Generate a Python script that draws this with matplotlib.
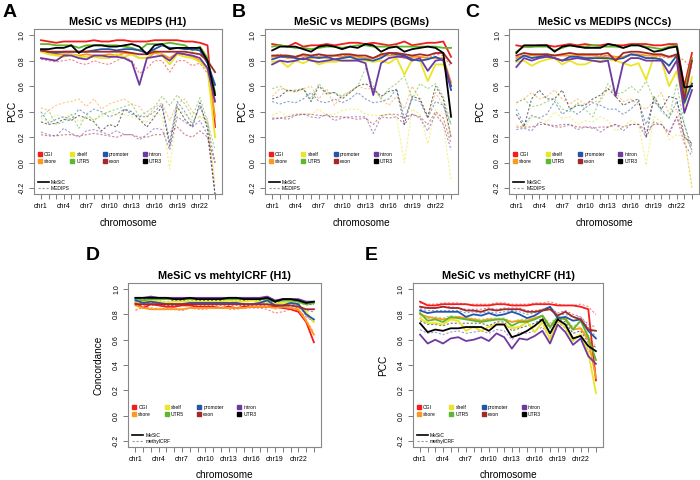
import matplotlib
matplotlib.use("Agg")
import matplotlib.pyplot as plt
from matplotlib.lines import Line2D

plt.rcParams['font.family'] = ['Liberation Sans', 'DejaVu Sans']

chroms = ['chr%d' % i for i in range(1, 23)] + ['chrX', 'chrY']
features = ['CGI', 'shore', 'shelf', 'UTR5', 'promoter', 'exon', 'intron', 'UTR3']
colors = ['#f41c1c', '#fb9a1e', '#ebe52a', '#5cb82c', '#2356a8', '#a3282a', '#6f3aa0', '#000000']

# rows follow `features`; 24 values per row (chr1..chr22, chrX, chrY)
a_mesic = [
    [0.96,0.95,0.94,0.95,0.95,0.95,0.95,0.96,0.95,0.95,0.96,0.96,0.95,0.95,0.95,0.96,0.96,0.96,0.96,0.95,0.95,0.94,0.92,0.28],
    [0.88,0.86,0.85,0.85,0.85,0.84,0.85,0.84,0.84,0.85,0.84,0.86,0.85,0.82,0.82,0.86,0.85,0.82,0.86,0.85,0.83,0.80,0.74,0.36],
    [0.87,0.85,0.84,0.83,0.85,0.83,0.83,0.83,0.82,0.82,0.85,0.83,0.85,0.82,0.82,0.88,0.84,0.77,0.85,0.83,0.82,0.79,0.73,0.20],
    [0.93,0.93,0.92,0.92,0.92,0.90,0.92,0.92,0.92,0.92,0.92,0.91,0.90,0.88,0.93,0.93,0.93,0.94,0.93,0.92,0.88,0.91,0.82,0.55],
    [0.88,0.87,0.86,0.87,0.87,0.87,0.87,0.88,0.89,0.89,0.88,0.89,0.89,0.88,0.86,0.89,0.92,0.90,0.90,0.89,0.89,0.88,0.78,0.61],
    [0.88,0.87,0.87,0.87,0.87,0.87,0.87,0.87,0.87,0.87,0.87,0.87,0.86,0.85,0.85,0.87,0.87,0.87,0.87,0.87,0.86,0.85,0.80,0.71],
    [0.82,0.81,0.80,0.84,0.84,0.82,0.81,0.84,0.84,0.83,0.83,0.82,0.79,0.61,0.82,0.83,0.84,0.80,0.86,0.85,0.84,0.82,0.74,0.48],
    [0.89,0.89,0.90,0.90,0.92,0.86,0.90,0.92,0.92,0.91,0.91,0.92,0.93,0.91,0.85,0.92,0.93,0.89,0.90,0.90,0.90,0.90,0.80,0.53],
]
a_medips = [
    [0.81,0.80,0.79,0.80,0.81,0.78,0.77,0.80,0.78,0.77,0.80,0.83,0.80,0.70,0.74,0.80,0.80,0.71,0.80,0.80,0.76,0.78,0.70,0.45],
    [0.43,0.41,0.45,0.47,0.48,0.50,0.44,0.50,0.42,0.46,0.48,0.50,0.46,0.44,0.36,0.43,0.47,0.33,0.46,0.50,0.40,0.36,0.35,-0.20],
    [0.35,0.32,0.38,0.35,0.38,0.32,0.36,0.34,0.36,0.40,0.38,0.38,0.36,0.34,0.32,0.38,0.37,-0.05,0.43,0.38,0.33,0.36,0.30,-0.15],
    [0.36,0.41,0.30,0.32,0.38,0.27,0.38,0.33,0.38,0.40,0.42,0.44,0.46,0.36,0.40,0.44,0.52,0.45,0.53,0.46,0.36,0.51,0.32,0.10],
    [0.40,0.31,0.34,0.36,0.34,0.42,0.38,0.42,0.40,0.36,0.38,0.42,0.38,0.36,0.36,0.40,0.46,0.16,0.48,0.40,0.30,0.44,0.30,0.00],
    [0.22,0.21,0.21,0.22,0.22,0.21,0.22,0.23,0.22,0.21,0.20,0.22,0.22,0.20,0.20,0.22,0.22,0.24,0.28,0.22,0.20,0.25,0.20,0.00],
    [0.24,0.22,0.21,0.27,0.23,0.20,0.25,0.26,0.24,0.22,0.25,0.22,0.22,0.18,0.22,0.27,0.26,0.10,0.36,0.32,0.28,0.33,0.22,-0.25],
    [0.32,0.30,0.31,0.34,0.33,0.37,0.35,0.32,0.25,0.30,0.28,0.42,0.40,0.34,0.28,0.36,0.44,0.13,0.44,0.34,0.28,0.47,0.26,-0.25],
]

b_mesic = [
    [0.93,0.92,0.91,0.94,0.91,0.92,0.92,0.93,0.92,0.93,0.94,0.94,0.93,0.94,0.93,0.92,0.93,0.95,0.92,0.93,0.94,0.94,0.95,0.83],
    [0.83,0.84,0.82,0.83,0.84,0.82,0.83,0.82,0.84,0.83,0.84,0.83,0.82,0.82,0.84,0.84,0.84,0.82,0.83,0.83,0.82,0.82,0.82,0.63],
    [0.79,0.80,0.75,0.80,0.78,0.81,0.77,0.79,0.79,0.80,0.80,0.81,0.80,0.79,0.80,0.78,0.82,0.69,0.81,0.80,0.64,0.77,0.77,0.60],
    [0.91,0.92,0.91,0.90,0.90,0.89,0.90,0.91,0.91,0.90,0.91,0.92,0.92,0.91,0.91,0.91,0.91,0.91,0.91,0.91,0.91,0.91,0.90,0.90],
    [0.81,0.83,0.83,0.82,0.81,0.83,0.82,0.83,0.81,0.82,0.83,0.81,0.81,0.80,0.82,0.86,0.85,0.84,0.81,0.80,0.81,0.83,0.80,0.57],
    [0.84,0.84,0.84,0.83,0.85,0.84,0.85,0.84,0.84,0.85,0.85,0.84,0.84,0.82,0.85,0.86,0.86,0.85,0.84,0.85,0.84,0.86,0.86,0.78],
    [0.77,0.80,0.79,0.80,0.82,0.80,0.79,0.80,0.81,0.80,0.80,0.80,0.78,0.53,0.78,0.82,0.83,0.83,0.80,0.82,0.72,0.80,0.81,0.60],
    [0.88,0.91,0.91,0.91,0.89,0.87,0.91,0.92,0.91,0.89,0.91,0.90,0.93,0.92,0.87,0.90,0.91,0.87,0.89,0.90,0.91,0.90,0.86,0.36],
]
b_medips = [
    [0.84,0.85,0.84,0.83,0.84,0.84,0.84,0.84,0.84,0.84,0.84,0.84,0.84,0.82,0.83,0.85,0.84,0.82,0.83,0.83,0.82,0.85,0.84,0.75],
    [0.52,0.58,0.57,0.55,0.58,0.60,0.50,0.58,0.45,0.53,0.55,0.60,0.58,0.58,0.50,0.45,0.52,0.42,0.60,0.50,0.35,0.55,0.45,0.20],
    [0.37,0.40,0.36,0.37,0.38,0.38,0.42,0.37,0.38,0.41,0.42,0.42,0.38,0.37,0.37,0.38,0.36,0.00,0.42,0.38,0.15,0.42,0.30,-0.14],
    [0.58,0.60,0.56,0.57,0.58,0.50,0.62,0.55,0.55,0.52,0.56,0.60,0.74,0.60,0.50,0.58,0.62,0.68,0.50,0.62,0.58,0.62,0.52,0.30],
    [0.48,0.46,0.48,0.47,0.50,0.55,0.48,0.47,0.50,0.47,0.50,0.55,0.50,0.47,0.48,0.50,0.58,0.35,0.50,0.48,0.35,0.48,0.45,0.30],
    [0.35,0.35,0.36,0.38,0.38,0.38,0.37,0.37,0.36,0.36,0.35,0.34,0.35,0.30,0.37,0.38,0.38,0.35,0.38,0.36,0.30,0.40,0.35,0.15],
    [0.34,0.35,0.34,0.37,0.38,0.36,0.35,0.38,0.33,0.35,0.36,0.36,0.36,0.23,0.36,0.35,0.36,0.30,0.38,0.35,0.25,0.38,0.30,0.10],
    [0.50,0.52,0.57,0.56,0.58,0.48,0.60,0.54,0.55,0.50,0.55,0.60,0.62,0.58,0.52,0.56,0.57,0.30,0.52,0.50,0.36,0.60,0.50,0.20],
]

c_mesic = [
    [0.92,0.91,0.91,0.92,0.92,0.91,0.92,0.93,0.92,0.93,0.92,0.92,0.93,0.92,0.92,0.93,0.93,0.93,0.92,0.92,0.93,0.93,0.60,0.86],
    [0.82,0.84,0.84,0.84,0.85,0.84,0.84,0.84,0.84,0.84,0.84,0.83,0.84,0.83,0.83,0.85,0.85,0.84,0.84,0.84,0.83,0.84,0.50,0.62],
    [0.79,0.80,0.76,0.79,0.81,0.82,0.77,0.80,0.77,0.77,0.80,0.80,0.81,0.80,0.78,0.76,0.78,0.65,0.83,0.80,0.60,0.72,0.45,0.67],
    [0.87,0.91,0.91,0.91,0.91,0.88,0.90,0.92,0.91,0.91,0.92,0.91,0.91,0.91,0.90,0.92,0.92,0.91,0.90,0.89,0.91,0.92,0.55,0.82],
    [0.80,0.84,0.82,0.83,0.84,0.82,0.80,0.83,0.83,0.82,0.82,0.82,0.82,0.81,0.82,0.85,0.84,0.82,0.82,0.81,0.76,0.84,0.47,0.62],
    [0.84,0.86,0.85,0.85,0.85,0.84,0.85,0.86,0.85,0.85,0.85,0.85,0.86,0.80,0.86,0.87,0.87,0.86,0.85,0.85,0.83,0.85,0.50,0.80],
    [0.75,0.82,0.80,0.82,0.83,0.82,0.80,0.81,0.82,0.81,0.80,0.79,0.80,0.52,0.78,0.82,0.82,0.80,0.80,0.80,0.70,0.80,0.39,0.57],
    [0.86,0.92,0.92,0.92,0.92,0.87,0.91,0.92,0.91,0.90,0.90,0.90,0.93,0.92,0.90,0.92,0.92,0.90,0.87,0.88,0.90,0.91,0.59,0.60],
]
c_medips = [
    [0.83,0.84,0.84,0.84,0.85,0.84,0.84,0.84,0.84,0.84,0.84,0.84,0.84,0.82,0.83,0.84,0.84,0.82,0.83,0.83,0.82,0.84,0.80,0.74],
    [0.47,0.50,0.55,0.50,0.52,0.57,0.50,0.46,0.50,0.46,0.48,0.48,0.58,0.55,0.48,0.50,0.45,0.42,0.48,0.55,0.38,0.42,0.20,-0.20],
    [0.30,0.27,0.36,0.35,0.32,0.40,0.35,0.36,0.30,0.33,0.32,0.36,0.33,0.25,0.28,0.33,0.30,-0.02,0.36,0.32,0.18,0.22,0.20,-0.18],
    [0.47,0.50,0.44,0.45,0.48,0.50,0.42,0.40,0.47,0.42,0.36,0.50,0.62,0.54,0.55,0.60,0.55,0.64,0.50,0.40,0.35,0.62,0.30,0.08],
    [0.42,0.30,0.37,0.35,0.38,0.48,0.38,0.42,0.38,0.43,0.47,0.45,0.42,0.42,0.38,0.42,0.48,0.30,0.48,0.42,0.35,0.48,0.30,0.12],
    [0.28,0.28,0.28,0.30,0.30,0.28,0.28,0.30,0.28,0.28,0.27,0.28,0.28,0.30,0.28,0.30,0.30,0.25,0.30,0.30,0.22,0.36,0.22,0.10],
    [0.26,0.27,0.25,0.32,0.30,0.29,0.30,0.30,0.26,0.28,0.28,0.24,0.28,0.30,0.25,0.30,0.30,0.20,0.32,0.30,0.24,0.36,0.15,0.05],
    [0.38,0.28,0.50,0.57,0.50,0.50,0.57,0.42,0.45,0.45,0.50,0.53,0.58,0.52,0.45,0.48,0.50,0.20,0.52,0.42,0.52,0.50,0.20,0.15],
]

d_mesic = [
    [0.89,0.85,0.88,0.87,0.86,0.86,0.87,0.87,0.86,0.86,0.86,0.85,0.86,0.85,0.86,0.86,0.86,0.86,0.86,0.85,0.84,0.82,0.74,0.58],
    [0.87,0.85,0.84,0.84,0.84,0.84,0.84,0.85,0.85,0.85,0.85,0.85,0.85,0.85,0.85,0.86,0.86,0.86,0.85,0.86,0.85,0.84,0.75,0.64],
    [0.90,0.90,0.91,0.90,0.89,0.90,0.90,0.90,0.90,0.90,0.90,0.90,0.91,0.90,0.90,0.91,0.90,0.90,0.88,0.89,0.90,0.88,0.82,0.74],
    [0.92,0.91,0.92,0.92,0.92,0.92,0.92,0.92,0.92,0.92,0.92,0.92,0.92,0.92,0.92,0.92,0.92,0.92,0.90,0.91,0.91,0.90,0.88,0.89],
    [0.91,0.89,0.90,0.89,0.88,0.88,0.88,0.89,0.89,0.89,0.89,0.89,0.89,0.89,0.88,0.88,0.89,0.91,0.87,0.87,0.89,0.88,0.80,0.76],
    [0.88,0.88,0.88,0.88,0.88,0.88,0.88,0.88,0.88,0.88,0.88,0.88,0.88,0.88,0.88,0.88,0.88,0.88,0.87,0.87,0.87,0.86,0.84,0.84],
    [0.93,0.93,0.94,0.93,0.93,0.93,0.93,0.93,0.93,0.93,0.93,0.93,0.93,0.93,0.93,0.93,0.93,0.94,0.91,0.92,0.92,0.92,0.90,0.90],
    [0.93,0.93,0.93,0.93,0.93,0.92,0.92,0.93,0.92,0.92,0.92,0.92,0.93,0.93,0.92,0.92,0.92,0.93,0.90,0.92,0.92,0.91,0.89,0.90],
]
d_crf = [
    [0.83,0.86,0.85,0.84,0.85,0.84,0.83,0.85,0.84,0.84,0.85,0.86,0.84,0.84,0.85,0.85,0.85,0.84,0.81,0.82,0.84,0.83,0.78,0.74],
    [0.84,0.85,0.85,0.85,0.85,0.85,0.84,0.85,0.85,0.85,0.85,0.85,0.86,0.85,0.85,0.86,0.86,0.86,0.84,0.85,0.85,0.84,0.76,0.66],
    [0.88,0.89,0.90,0.89,0.88,0.89,0.89,0.89,0.89,0.89,0.89,0.89,0.90,0.89,0.89,0.90,0.89,0.90,0.87,0.88,0.89,0.87,0.80,0.74],
    [0.90,0.90,0.91,0.91,0.90,0.91,0.91,0.91,0.91,0.91,0.91,0.91,0.91,0.91,0.91,0.91,0.91,0.91,0.89,0.90,0.90,0.89,0.87,0.88],
    [0.89,0.88,0.89,0.88,0.87,0.87,0.87,0.88,0.88,0.88,0.88,0.88,0.88,0.88,0.87,0.87,0.88,0.90,0.86,0.86,0.88,0.87,0.79,0.74],
    [0.87,0.87,0.87,0.87,0.87,0.87,0.87,0.87,0.87,0.87,0.87,0.87,0.87,0.87,0.87,0.87,0.87,0.87,0.86,0.86,0.86,0.85,0.83,0.82],
    [0.92,0.92,0.93,0.92,0.92,0.92,0.92,0.92,0.92,0.92,0.92,0.92,0.92,0.92,0.92,0.92,0.92,0.93,0.90,0.91,0.91,0.91,0.89,0.89],
    [0.91,0.92,0.92,0.92,0.92,0.91,0.91,0.92,0.91,0.91,0.91,0.91,0.92,0.92,0.91,0.91,0.91,0.92,0.89,0.91,0.91,0.90,0.88,0.88],
]

e_mesic = [
    [0.90,0.87,0.87,0.88,0.88,0.88,0.88,0.87,0.87,0.87,0.88,0.88,0.87,0.87,0.87,0.88,0.88,0.88,0.87,0.87,0.87,0.86,0.84,0.28],
    [0.80,0.78,0.77,0.76,0.77,0.78,0.77,0.76,0.75,0.76,0.76,0.76,0.74,0.75,0.75,0.77,0.79,0.70,0.77,0.77,0.68,0.69,0.60,0.30],
    [0.77,0.73,0.73,0.72,0.76,0.75,0.67,0.70,0.67,0.70,0.72,0.72,0.69,0.70,0.74,0.66,0.74,0.60,0.75,0.70,0.59,0.64,0.50,0.18],
    [0.81,0.75,0.76,0.74,0.78,0.77,0.76,0.75,0.74,0.75,0.76,0.76,0.71,0.74,0.74,0.76,0.79,0.70,0.78,0.76,0.68,0.75,0.62,0.44],
    [0.83,0.81,0.82,0.82,0.82,0.82,0.78,0.80,0.79,0.81,0.79,0.80,0.82,0.80,0.77,0.79,0.83,0.86,0.77,0.78,0.75,0.76,0.67,0.61],
    [0.86,0.85,0.85,0.86,0.85,0.85,0.83,0.83,0.82,0.84,0.83,0.84,0.84,0.84,0.82,0.82,0.83,0.84,0.79,0.82,0.78,0.76,0.68,0.67],
    [0.64,0.57,0.60,0.57,0.61,0.62,0.59,0.60,0.62,0.59,0.65,0.62,0.53,0.61,0.60,0.63,0.67,0.57,0.72,0.66,0.56,0.61,0.47,0.41],
    [0.73,0.66,0.68,0.67,0.69,0.69,0.70,0.70,0.70,0.67,0.72,0.72,0.62,0.64,0.67,0.71,0.76,0.65,0.76,0.72,0.61,0.63,0.55,0.51],
]
e_crf = [
    [0.89,0.88,0.88,0.89,0.89,0.89,0.88,0.88,0.88,0.88,0.89,0.89,0.88,0.88,0.88,0.89,0.89,0.90,0.88,0.87,0.87,0.88,0.86,0.80],
    [0.78,0.77,0.76,0.76,0.77,0.77,0.76,0.76,0.75,0.76,0.76,0.76,0.74,0.75,0.75,0.77,0.78,0.72,0.77,0.76,0.70,0.70,0.62,0.55],
    [0.76,0.74,0.74,0.73,0.75,0.74,0.70,0.71,0.70,0.71,0.72,0.72,0.70,0.71,0.73,0.70,0.74,0.64,0.74,0.71,0.62,0.66,0.55,0.35],
    [0.80,0.77,0.78,0.77,0.79,0.78,0.77,0.77,0.76,0.77,0.77,0.77,0.74,0.76,0.76,0.77,0.79,0.73,0.78,0.77,0.70,0.75,0.64,0.50],
    [0.84,0.83,0.83,0.83,0.83,0.83,0.81,0.82,0.81,0.82,0.81,0.82,0.83,0.82,0.80,0.81,0.84,0.86,0.80,0.80,0.78,0.78,0.70,0.62],
    [0.85,0.85,0.85,0.86,0.86,0.85,0.84,0.84,0.84,0.85,0.84,0.85,0.85,0.85,0.83,0.83,0.84,0.85,0.81,0.83,0.80,0.78,0.72,0.70],
    [0.68,0.65,0.66,0.64,0.66,0.67,0.65,0.66,0.67,0.65,0.68,0.67,0.60,0.66,0.65,0.67,0.70,0.62,0.74,0.69,0.60,0.64,0.52,0.45],
    [0.75,0.72,0.72,0.71,0.73,0.73,0.73,0.73,0.73,0.71,0.74,0.74,0.67,0.69,0.71,0.73,0.77,0.69,0.77,0.74,0.65,0.67,0.58,0.54],
]

# letter, title, ylabel, dashed-method name, solid data, dashed data
panels = [
    ('A', 'MeSiC vs MEDIPS (H1)', 'PCC', 'MEDIPS', a_mesic, a_medips),
    ('B', 'MeSiC vs MEDIPS (BGMs)', 'PCC', 'MEDIPS', b_mesic, b_medips),
    ('C', 'MeSiC vs MEDIPS (NCCs)', 'PCC', 'MEDIPS', c_mesic, c_medips),
    ('D', 'MeSiC vs mehtylCRF (H1)', 'Concordance', 'methylCRF', d_mesic, d_crf),
    ('E', 'MeSiC vs methylCRF (H1)', 'PCC', 'methylCRF', e_mesic, e_crf),
]
# axes rect, ylabel x (axes frac), letter position (fig frac)
boxes = [
    ([0.0486, 0.595, 0.2686, 0.3446], -0.117, (0.003, 0.965)),
    ([0.3786, 0.595, 0.2760, 0.3446], -0.119, (0.331, 0.965)),
    ([0.7276, 0.595, 0.2710, 0.3446], -0.153, (0.664, 0.965)),
    ([0.1833, 0.068, 0.2753, 0.3427], -0.155, (0.123, 0.458)),
    ([0.5900, 0.068, 0.2714, 0.3427], -0.158, (0.521, 0.458)),
]

fig = plt.figure(figsize=(7, 4.8), dpi=100)
x = list(range(1, 25))
ticklabels = [c if i % 3 == 0 and i < 22 else '' for i, c in enumerate(chroms)]

for (letter, title, ylab, other, solid, dashed), (rect, ylx, lpos) in zip(panels, boxes):
    ax = fig.add_axes(rect)
    for vals, col in zip(dashed, colors):
        ax.plot(x, vals, color=col, lw=0.8, alpha=0.55, linestyle=(0, (2, 1.6)))
    for vals, col in zip(solid, colors):
        ax.plot(x, vals, color=col, lw=1.3)

    ax.set_xlim(0.08, 24.92)
    ax.set_ylim(-0.248, 1.048)
    ax.set_xticks(x)
    ax.set_xticklabels(ticklabels, fontsize=5)
    ax.set_yticks([-0.2, 0.0, 0.2, 0.4, 0.6, 0.8, 1.0])
    ax.set_yticklabels(['-0.2', '0.0', '0.2', '0.4', '0.6', '0.8', '1.0'], fontsize=5,
                       rotation=90, va='center')
    ax.tick_params(length=3.5, width=0.6, color='#666666', pad=2.5)
    for sp in ax.spines.values():
        sp.set_color('#888888')
        sp.set_linewidth(0.8)

    ax.set_title(title, fontsize=7.8, fontweight='bold', pad=3)
    ax.set_xlabel('chromosome', fontsize=7.2)
    ax.xaxis.set_label_coords(0.5, -0.17)
    ax.xaxis.label.set_va('center')
    ax.set_ylabel(ylab, fontsize=7.2)
    ax.yaxis.set_label_coords(ylx, 0.5)
    ax.yaxis.label.set_va('center')

    handles = [Line2D([], [], marker='s', color=c, linestyle='none', markersize=2.6) for c in colors]
    leg1 = ax.legend(handles, features, ncol=4, fontsize=3.6, frameon=False, loc='lower left',
                     bbox_to_anchor=(0.0, 0.165), handletextpad=0.3, columnspacing=2.6,
                     labelspacing=0.35, handlelength=1.0, borderaxespad=0.3)
    ax.add_artist(leg1)
    lines = [Line2D([], [], color='black', lw=1.2),
             Line2D([], [], color='#999999', lw=0.8, linestyle=(0, (2, 1.6)))]
    ax.legend(lines, ['MeSiC', other], fontsize=3.6, frameon=False, loc='lower left',
              bbox_to_anchor=(0.0, 0.0), handlelength=2.2, handletextpad=0.5,
              labelspacing=0.25, borderaxespad=0.3)

    fig.text(lpos[0], lpos[1], letter, fontsize=14, fontweight='bold', va='baseline')

fig.savefig('out.png', dpi=100)
